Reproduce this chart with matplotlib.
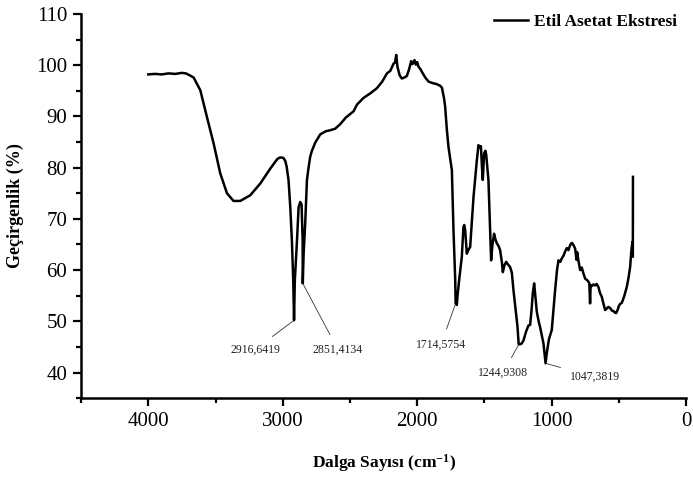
import matplotlib
matplotlib.use("Agg")
import matplotlib.pyplot as plt
from matplotlib.ticker import MultipleLocator

plt.rcParams['font.family'] = ['Liberation Serif', 'DejaVu Serif']
plt.rcParams['mathtext.fontset'] = 'custom'
plt.rcParams['mathtext.rm'] = 'Liberation Serif'
plt.rcParams['mathtext.bf'] = 'Liberation Serif:bold'

# ---- data ----
wavenumber = [4000, 3950, 3900, 3850, 3800, 3750, 3720, 3690, 3663, 3613, 3564, 3514, 3465, 3415,
              3366, 3316, 3242, 3167, 3093, 3040, 3019, 2995, 2981, 2971, 2957, 2944, 2932, 2922,
              2916, 2910, 2894, 2882, 2870, 2860, 2852, 2851, 2845, 2833, 2820, 2808, 2796, 2783,
              2758, 2721, 2680, 2647, 2610, 2572, 2530, 2473, 2448, 2400, 2349, 2300, 2260, 2225,
              2200, 2188, 2176, 2165, 2156, 2147, 2130, 2114, 2095, 2077, 2060, 2045, 2035, 2020,
              2010, 2000, 1990, 1975, 1965, 1940, 1916, 1885, 1854, 1830, 1816, 1800, 1792, 1779,
              1767, 1742, 1730, 1717, 1714, 1705, 1700, 1686, 1668, 1656, 1650, 1643, 1631, 1618,
              1606, 1581, 1556, 1544, 1535, 1526, 1518, 1512, 1502, 1493, 1487, 1470, 1457, 1450,
              1440, 1428, 1418, 1407, 1395, 1383, 1370, 1363, 1350, 1338, 1322, 1309, 1296, 1284,
              1271, 1254, 1245, 1239, 1225, 1210, 1190, 1172, 1160, 1150, 1140, 1130, 1120, 1110,
              1095, 1086, 1070, 1061, 1050, 1045, 1035, 1020, 999, 987, 974, 960, 949, 936, 924,
              912, 900, 887, 875, 862, 850, 838, 825, 815, 810, 801, 788, 776, 763, 750, 734, 720,
              714, 710, 700, 690, 677, 665, 652, 640, 627, 615, 602, 590, 578, 565, 552, 540, 530,
              520, 508, 500, 490, 478, 460, 441, 428, 416, 408, 404, 398, 396, 395]
transmittance = [98.2, 98.3, 98.2, 98.4, 98.3, 98.5, 98.4, 98.0, 97.6, 95.1, 89.9, 84.7, 78.9, 75.0,
                 73.5, 73.5, 74.6, 76.9, 79.8, 81.7, 82.0, 81.9, 81.3, 80.2, 77.6, 72.3, 65.8, 58.0,
                 50.2, 58.0, 65.8, 72.3, 73.3, 72.8, 65.8, 57.4, 63.0, 69.1, 77.6, 80.0, 82.1, 83.3,
                 84.9, 86.5, 87.1, 87.3, 87.6, 88.5, 89.8, 91.0, 92.3, 93.6, 94.5, 95.5, 96.8, 98.4,
                 98.9, 99.6, 100.3, 100.5, 102.0, 99.7, 98.0, 97.4, 97.6, 97.9, 99.2, 100.8, 100.2, 101.0,
                 100.1, 100.6, 99.7, 99.2, 98.7, 97.6, 96.8, 96.5, 96.3, 96.0, 95.6, 93.5, 91.9, 87.3,
                 84.0, 79.5, 67.8, 58.0, 53.5, 53.2, 55.0, 58.5, 62.6, 68.4, 68.8, 67.8, 63.2, 64.0,
                 64.5, 74.3, 81.5, 84.4, 84.0, 84.2, 80.0, 77.6, 82.8, 83.3, 82.6, 77.6, 67.8, 61.9,
                 65.0, 67.1, 66.0, 65.2, 64.7, 63.9, 61.5, 59.6, 61.0, 61.6, 61.0, 60.6, 59.5, 56.1,
                 53.0, 49.0, 45.5, 45.5, 45.6, 46.2, 48.0, 49.2, 49.3, 52.0, 55.5, 57.4, 54.5, 51.8,
                 49.8, 48.9, 46.8, 45.7, 43.0, 41.8, 44.0, 46.5, 48.3, 52.0, 56.1, 60.0, 61.9, 61.6, 62.3,
                 62.8, 63.6, 64.3, 63.9, 64.9, 65.3, 64.9, 64.2, 62.0, 63.5, 61.9, 60.0, 60.5, 59.3, 58.3, 58.0, 57.5,
                 53.5, 57.0, 56.9, 57.2, 57.0, 57.3, 56.7, 55.5, 54.8, 53.5, 52.2, 52.5, 52.8, 52.6, 52.1, 52.0, 51.7,
                 51.6, 52.3, 53.0, 53.4, 53.6, 54.9, 56.7, 58.5, 60.6, 63.5, 64.5, 65.5, 62.6, 78.2]

series_name = "Etil Asetat Ekstresi"
peak_labels = ["2916,6419", "2851,4134", "1714,5754", "1244,9308", "1047,3819"]
peak_x = [2916, 2851, 1714, 1244, 1045]
peak_y = [50.2, 57.4, 53.5, 45.5, 41.8]
label_x = [3205, 2590, 1822, 1361, 677]
label_y = [44.5, 44.5, 45.5, 40.0, 39.1]

x_label = "Dalga Sayısı (cm$\\mathbf{^{-1}}$)"
y_label = "Geçirgenlik (%)"

# ---- figure ----
fig = plt.figure(figsize=(6.93, 4.82), dpi=100)
ax = fig.add_axes([0.117, 0.174, 0.873, 0.797])

ax.plot(wavenumber, transmittance, color='black', lw=1.8, label=series_name)

for lab, px, py, tx, ty in zip(peak_labels, peak_x, peak_y, label_x, label_y):
    ax.annotate(lab, xy=(px, py), xytext=(tx, ty), textcoords='data',
                ha='center', va='center', fontsize=8.5, color='#222222',
                arrowprops=dict(arrowstyle='-', lw=0.6, color='#333333',
                                shrinkA=5, shrinkB=1))

ax.set_xlim(4500, 0)
ax.set_ylim(35, 110)
ax.xaxis.set_major_locator(MultipleLocator(1000))
ax.xaxis.set_minor_locator(MultipleLocator(500))
ax.yaxis.set_major_locator(MultipleLocator(10))
ax.yaxis.set_minor_locator(MultipleLocator(5))

for s in ['top', 'right']:
    ax.spines[s].set_visible(False)
for s in ['left', 'bottom']:
    ax.spines[s].set_linewidth(1.8)

ax.tick_params(axis='both', which='major', direction='out', length=6, width=1.6,
               labelsize=15, pad=4)
ax.tick_params(axis='both', which='minor', direction='out', length=3.5, width=1.6)

ax.set_xlabel(x_label, fontsize=12.5, fontweight='bold', labelpad=15)
ax.set_ylabel(y_label, fontsize=13, fontweight='bold', labelpad=9)

ax.legend(loc='upper right', bbox_to_anchor=(1.0, 1.025), frameon=False,
          prop={'family': 'Liberation Serif', 'weight': 'bold', 'size': 12.5},
          handlelength=2.0, handletextpad=0.3, borderaxespad=0.15)

fig.savefig("out.png", dpi=100)
